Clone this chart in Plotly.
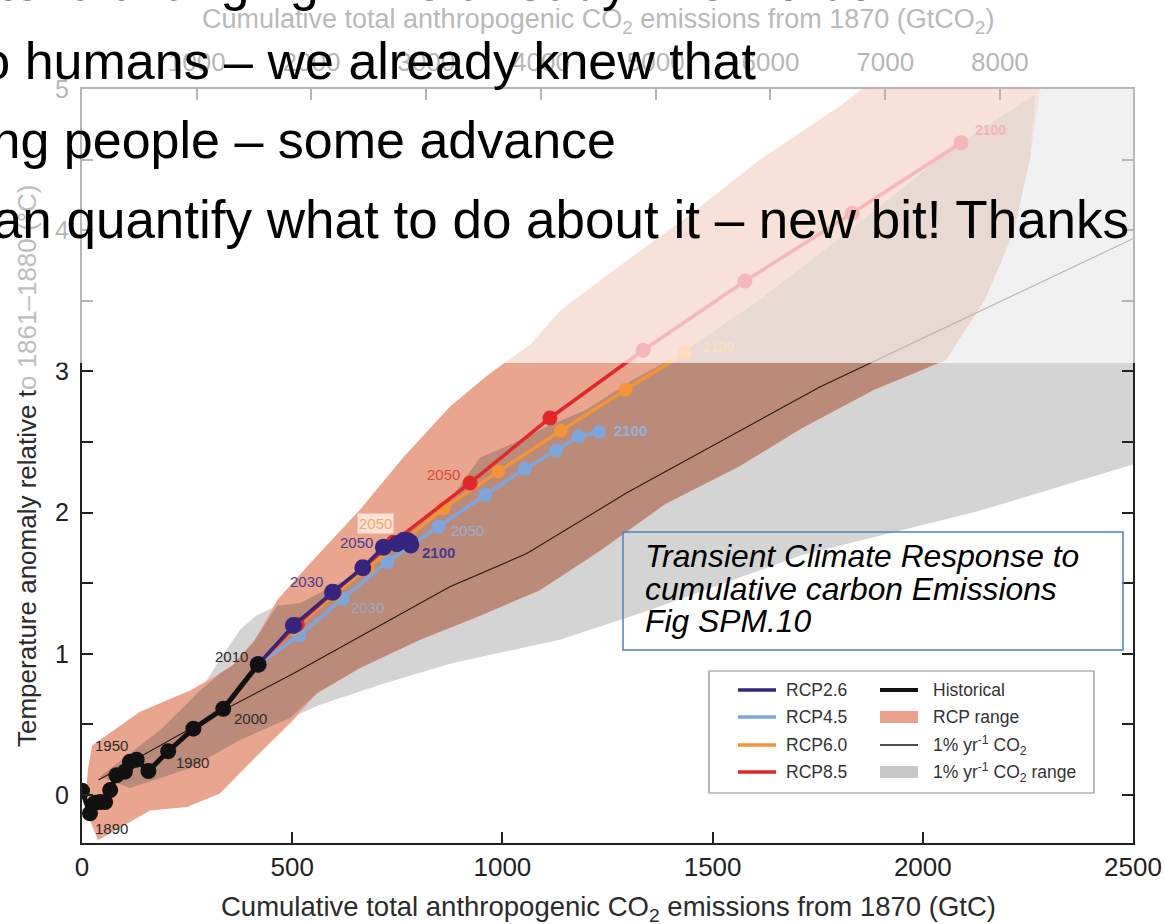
import plotly.graph_objects as go

# ---------------- data (GtC, degC) ----------------
hist_x = [0, 19, 31, 43, 55, 67, 82, 102, 114, 130, 158, 205, 265, 336, 419]
hist_y = [0.03, -0.13, -0.055, -0.05, -0.05, 0.035, 0.14, 0.165, 0.235, 0.25, 0.17, 0.31, 0.47, 0.61, 0.925]

rcp26_x = [419, 503, 596, 668, 717, 749, 766, 775, 780, 782]
rcp26_y = [0.925, 1.20, 1.435, 1.61, 1.755, 1.78, 1.805, 1.80, 1.79, 1.77]
rcp45_x = [419, 517, 620, 726, 848, 959, 1054, 1128, 1182, 1230]
rcp45_y = [0.925, 1.13, 1.39, 1.65, 1.90, 2.125, 2.31, 2.44, 2.54, 2.57]
rcp60_x = [419, 505, 600, 680, 765, 860, 990, 1139, 1293, 1434]
rcp60_y = [0.925, 1.18, 1.42, 1.61, 1.80, 2.03, 2.29, 2.58, 2.87, 3.13]
rcp85_x = [419, 512, 600, 740, 923, 1113, 1335, 1577, 1832, 2091]
rcp85_y = [0.925, 1.21, 1.44, 1.79, 2.21, 2.67, 3.15, 3.64, 4.12, 4.62]

pct_x = [39, 336, 503, 875, 1058, 1296, 1755, 2500]
pct_y = [0.106, 0.60, 0.86, 1.475, 1.71, 2.14, 2.89, 3.94]

# 1% yr-1 CO2 range (upper edge left->right, lower edge right->left)
gray_x = [33, 186, 281, 328, 376, 414, 471, 519, 637, 756, 875, 947, 1025, 1106, 1201, 1311, 1422, 1613, 1827, 2065, 2284, 2500,
          2500, 2131, 1713, 1351, 1137, 875, 709, 566, 495, 376, 257, 114, 33]
gray_y = [0.16, 0.46, 0.74, 0.96, 1.17, 1.27, 1.35, 1.36, 1.54, 1.83, 2.09, 2.39, 2.49, 2.61, 2.73, 2.94, 3.12, 3.51, 4.00, 4.57, 5.00, 5.00,
          2.34, 2.01, 1.70, 1.31, 1.10, 0.93, 0.78, 0.64, 0.545, 0.39, 0.19, 0.05, 0.11]

# RCP range
rcp_x = [24, 138, 257, 352, 412, 464, 542, 661, 764, 875, 963, 1066, 1137, 1280, 1446, 1613, 1808, 1855,
         2279, 2255, 2215, 2148, 2055, 1884, 1713, 1565, 1387, 1232, 1089, 947, 804, 661, 559, 502, 407, 328, 250, 162, 38, 7, 14]
rcp_y = [0.35, 0.59, 0.74, 0.90, 1.10, 1.38, 1.64, 2.02, 2.39, 2.75, 2.97, 3.19, 3.43, 3.75, 4.11, 4.50, 4.89, 5.00,
         5.00, 4.50, 3.98, 3.51, 3.08, 2.87, 2.60, 2.33, 2.06, 1.73, 1.45, 1.27, 1.10, 0.90, 0.72, 0.53, 0.25, 0.01, -0.085, -0.11, -0.32, -0.085, 0.18]

# overlap of the two ranges
both_x = [43, 186, 281, 328, 359, 407, 464, 519, 637, 756, 875, 947, 1025, 1106, 1201, 1311, 1422, 1613, 1827, 2065, 2267,
          2255, 2215, 2148, 2055, 1884, 1713, 1565, 1387, 1232, 1089, 947, 804, 661, 559, 495, 376, 257, 114]
both_y = [0.13, 0.46, 0.74, 0.86, 0.92, 1.08, 1.34, 1.36, 1.54, 1.83, 2.09, 2.39, 2.49, 2.61, 2.73, 2.94, 3.12, 3.51, 4.00, 4.57, 4.96,
          4.50, 3.98, 3.51, 3.08, 2.87, 2.60, 2.33, 2.06, 1.73, 1.45, 1.27, 1.10, 0.90, 0.72, 0.545, 0.39, 0.19, 0.05]

x_ticks = [0, 500, 1000, 1500, 2000, 2500]
y_ticks = [0, 0.5, 1, 1.5, 2, 2.5, 3, 3.5, 4, 4.5, 5]
y_ticktext = ["0", "", "1", "", "2", "", "3", "", "4", "", "5"]
top_ticks = [1000, 2000, 3000, 4000, 5000, 6000, 7000, 8000]
GTCO2_PER_GTC = 3.664

C26, C45, C60, C85 = "#35257e", "#7ea6dc", "#f39438", "#e2262a"
SALMON, BROWN, GRAY = "#e9a58d", "#bb8b79", "#d4d4d4"
FONT = "Liberation Sans, Arial, sans-serif"

fig = go.Figure()
fill_common = dict(mode="lines", line=dict(width=0), hoverinfo="skip", showlegend=False, fill="toself")
fig.add_trace(go.Scatter(x=gray_x, y=gray_y, fillcolor=GRAY, **fill_common))
fig.add_trace(go.Scatter(x=rcp_x, y=rcp_y, fillcolor=SALMON, **fill_common))
fig.add_trace(go.Scatter(x=both_x, y=both_y, fillcolor=BROWN, **fill_common))
fig.add_trace(go.Scatter(x=pct_x, y=pct_y, mode="lines", line=dict(color="#2a1a12", width=1.1),
                         hoverinfo="skip", showlegend=False))

def series(x, y, color, msize, lw):
    fig.add_trace(go.Scatter(x=x, y=y, mode="lines+markers", line=dict(color=color, width=lw),
                             marker=dict(color=color, size=msize), hoverinfo="skip", showlegend=False))

series(rcp45_x, rcp45_y, C45, 14, 3.5)
series(rcp60_x, rcp60_y, C60, 14, 3.5)
series(rcp85_x, rcp85_y, C85, 15, 3.5)
series(rcp26_x, rcp26_y, C26, 17, 3.5)
series(hist_x, hist_y, "#111111", 16, 5)

# invisible trace for top (GtCO2) axis
fig.add_trace(go.Scatter(x=[0, 2500 * GTCO2_PER_GTC], y=[-5, -5], xaxis="x2", mode="markers",
                         marker=dict(opacity=0), hoverinfo="skip", showlegend=False))

ann = []
def lab(x, y, t, color="#2b2b2b", size=15, bold=False, **kw):
    d = dict(x=x, y=y, xref="x", yref="y", showarrow=False,
             text=("<b>%s</b>" % t) if bold else t,
             font=dict(family=FONT, size=size, color=color))
    d.update(kw)
    ann.append(d)

lab(71, -0.235, "1890")
lab(71, 0.35, "1950")
lab(264, 0.228, "1980")
lab(400, 0.545, "2000")
lab(356, 0.98, "2010")
lab(533, 1.51, "2030", color="#4a3a8a")
lab(654, 1.79, "2050", color="#4a3a8a")
lab(849, 1.72, "2100", color="#4a3a8a", bold=True)
lab(678, 1.33, "2030", color="rgba(150,175,220,0.75)")
lab(916, 1.875, "2050", color="rgba(150,180,225,0.85)")
lab(1304, 2.58, "2100", color="#93b2df", bold=True)
lab(697, 1.92, "2050", color="#f6a86c", bgcolor="#fbe3d6", borderpad=1)
lab(859, 2.27, "2050", color="#e2453a")
lab(1513, 3.17, "2100", color="#fbdcc2", bold=True, size=14)
lab(2160, 4.71, "2100", color="#f3b6b1", bold=True, size=14)

PL, PR, PT, PB = 82, 1133, 89, 843
def px(p):   # pixel x -> paper
    return (p - PL) / float(PR - PL)
def py(p):   # pixel y -> paper
    return (PB - p) / float(PB - PT)

def pann(x, y, t, size, color="#000000", xanchor="left", yanchor="middle", italic=False, **kw):
    d = dict(x=x, y=y, xref="paper", yref="paper", showarrow=False, text=t, xanchor=xanchor, yanchor=yanchor,
             font=dict(family=FONT, size=size, color=color, style="italic" if italic else "normal"))
    d.update(kw)
    ann.append(d)

# axis titles
pann(px(608), py(909), "Cumulative total anthropogenic CO<sub>2</sub> emissions from 1870 (GtC)", 27.5,
     color="#2b2b2b", xanchor="center")
pann(px(598), py(21), "Cumulative total anthropogenic CO<sub>2</sub> emissions from 1870 (GtCO<sub>2</sub>)", 27,
     color="#b9b9b9", xanchor="center")
pann(px(27), py(466), "Temperature anomaly relative t<span style='color:#bdbdbd'>o 1861–1880 (°C)</span>", 26,
     color="#2b2b2b", xanchor="center", textangle=-90)

# legend (manual)
rows = [690, 717, 745, 772]
left_names = ["RCP2.6", "RCP4.5", "RCP6.0", "RCP8.5"]
left_cols = [C26, C45, C60, C85]
right_names = ["Historical", "RCP range", "1% yr<sup>-1</sup> CO<sub>2</sub>", "1% yr<sup>-1</sup> CO<sub>2</sub> range"]
shapes = []
shapes.append(dict(type="rect", xref="paper", yref="paper", x0=px(709), x1=px(1094), y0=py(793), y1=py(671),
                   line=dict(color="#8a8a8a", width=1.2), fillcolor="rgba(255,255,255,0)"))
for r, n, c in zip(rows, left_names, left_cols):
    shapes.append(dict(type="line", xref="paper", yref="paper", x0=px(738), x1=px(776), y0=py(r), y1=py(r),
                       line=dict(color=c, width=3.5)))
    pann(px(784), py(r), n, 17.5, color="#333333")
shapes.append(dict(type="line", xref="paper", yref="paper", x0=px(880), x1=px(918), y0=py(rows[0]), y1=py(rows[0]),
                   line=dict(color="#111111", width=4)))
shapes.append(dict(type="rect", xref="paper", yref="paper", x0=px(880), x1=px(918), y0=py(rows[1] + 6), y1=py(rows[1] - 6),
                   line=dict(width=0), fillcolor="#eba089"))
shapes.append(dict(type="line", xref="paper", yref="paper", x0=px(880), x1=px(918), y0=py(rows[2]), y1=py(rows[2]),
                   line=dict(color="#111111", width=1.5)))
shapes.append(dict(type="rect", xref="paper", yref="paper", x0=px(880), x1=px(918), y0=py(rows[3] + 6), y1=py(rows[3] - 6),
                   line=dict(width=0), fillcolor="#c8c8c8"))
for r, n in zip(rows, right_names):
    pann(px(931), py(r), n, 17.5, color="#333333")

# text box
shapes.append(dict(type="rect", xref="paper", yref="paper", x0=px(623), x1=px(1123), y0=py(650), y1=py(532),
                   line=dict(color="#4f81bd", width=1.5), fillcolor="rgba(255,255,255,0)"))
pann(px(643), py(556), "Transient Climate Response to", 31.8, italic=True)
pann(px(643), py(589), "cumulative carbon Emissions", 31.8, italic=True)
pann(px(643), py(621), "Fig SPM.10", 31.8, italic=True)

# white translucent overlay (slide)
shapes.append(dict(type="rect", xref="paper", yref="paper", x0=-0.09, x1=1.05, y0=py(363), y1=py(-5),
                   line=dict(width=0), fillcolor="rgba(255,255,255,0.67)", layer="above"))

# slide bullet text
pann(px(868), py(-18), "Climate is changing – we already knew that", 52, xanchor="right")
pann(px(759), py(61), "Due to humans – we already knew that", 52, xanchor="right")
pann(px(618), py(140), "Affecting people – some advance", 52, xanchor="right")
pann(px(1131), py(219), "We can quantify what to do about it – new bit! Thanks", 53, xanchor="right")

axis_common = dict(showgrid=False, zeroline=False, ticks="inside", ticklen=11, tickwidth=2, tickcolor="#222222",
                   automargin=False, ticklabeloverflow="allow")

fig.update_layout(
    width=1165, height=924, autosize=False,
    margin=dict(l=PL, r=1165 - PR, t=PT, b=924 - PB, pad=0, autoexpand=False),
    paper_bgcolor="white", plot_bgcolor="white",
    font=dict(family=FONT),
    showlegend=False,
    xaxis=dict(range=[0, 2500], tickvals=x_ticks, showline=True, linewidth=2, linecolor="#222222",
               mirror=True, tickfont=dict(family=FONT, size=26, color="#222222"), **axis_common),
    xaxis2=dict(range=[0, 2500 * GTCO2_PER_GTC], tickvals=top_ticks, overlaying="x", side="top", anchor="y",
                showline=False, ticklabelstandoff=12, tickfont=dict(family=FONT, size=26, color="#222222"),
                **axis_common),
    yaxis=dict(range=[-0.34, 5], tickvals=y_ticks, ticktext=y_ticktext, showline=True, linewidth=2,
               linecolor="#222222", mirror="ticks", ticklabelstandoff=6,
               tickfont=dict(family=FONT, size=25, color="#222222"), **axis_common),
    annotations=ann,
    shapes=shapes,
)

fig.write_html("out.html")
